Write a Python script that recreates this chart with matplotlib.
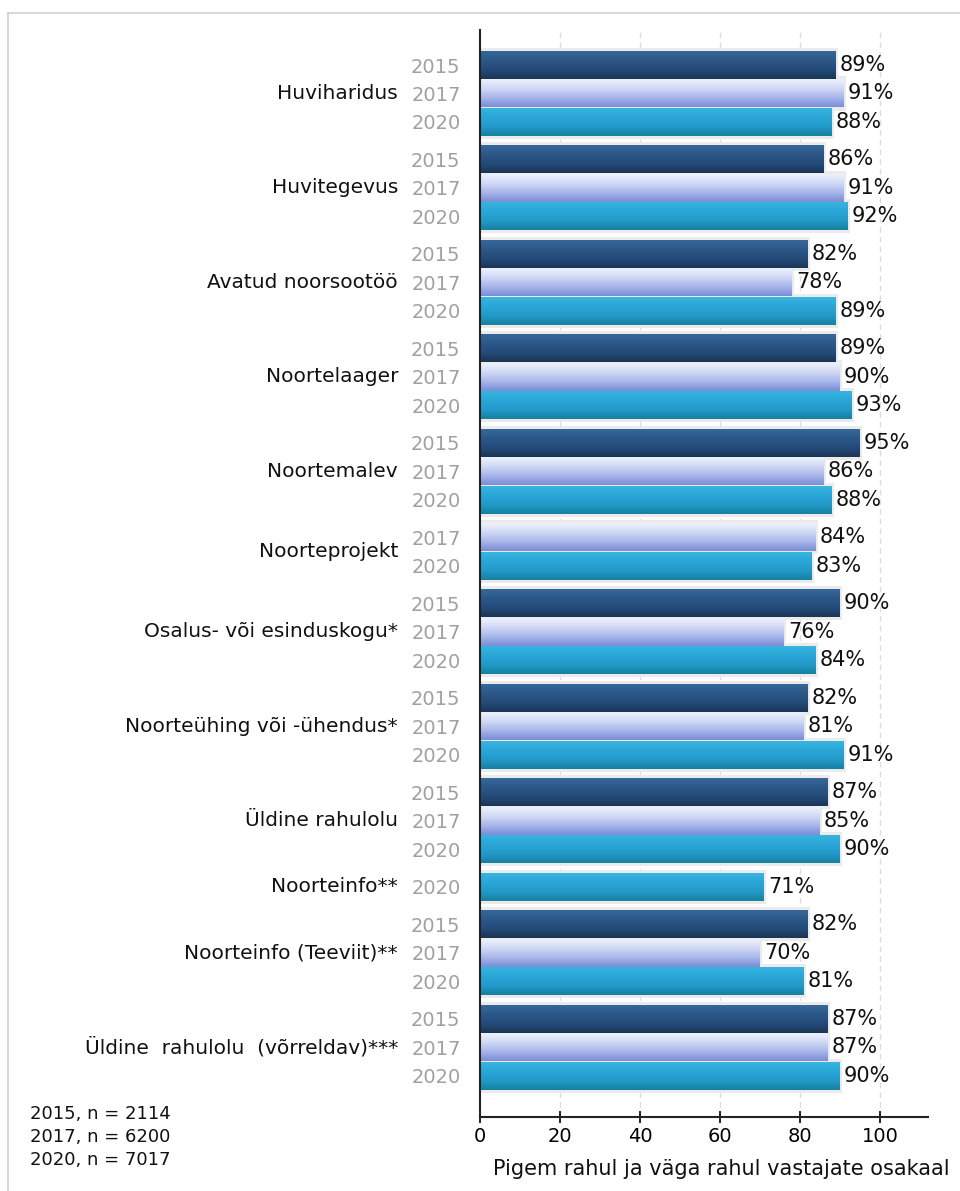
import numpy as np
import matplotlib.pyplot as plt
from matplotlib.colors import LinearSegmentedColormap
from matplotlib.patches import Rectangle

categories = [
    "Huviharidus",
    "Huvitegevus",
    "Avatud noorsootöö",
    "Noortelaager",
    "Noortemalev",
    "Noorteprojekt",
    "Osalus- või esinduskogu*",
    "Noorteühing või -ühendus*",
    "Üldine rahulolu",
    "Noorteinfo**",
    "Noorteinfo (Teeviit)**",
    "Üldine  rahulolu  (võrreldav)***",
]
years = ["2015", "2017", "2020"]
# None = no data for that year
values_2015 = [89, 86, 82, 89, 95, None, 90, 82, 87, None, 82, 87]
values_2017 = [91, 91, 78, 90, 86, 84, 76, 81, 85, None, 70, 87]
values_2020 = [88, 92, 89, 93, 88, 83, 84, 91, 90, 71, 81, 90]
sample_notes = ["2015, n = 2114", "2017, n = 6200", "2020, n = 7017"]
x_ticks = [0, 20, 40, 60, 80, 100]
x_label = "Pigem rahul ja väga rahul vastajate osakaal"

gradients = {
    "2015": ["#36689b", "#2b5787", "#244b7a", "#1a3456"],
    "2017": ["#eef2fd", "#d0d8f5", "#a7b5ea", "#7a8dd6"],
    "2020": ["#38b4e1", "#2aa6d6", "#229aca", "#17809f"],
}
cmaps = {y: LinearSegmentedColormap.from_list(y, c) for y, c in gradients.items()}

plt.rcParams["font.family"] = ["DejaVu Sans"]

fig = plt.figure(figsize=(9.6, 11.91), dpi=100)
ax = fig.add_axes([480 / 960, 1 - 1117 / 1191, 448 / 960, 1087 / 1191])

# work out bar rows: one unit per bar, a gap between groups
GAP = 0.32
rows = []  # (y, year, value)
cat_y = []
y = 0.0
for i, cat in enumerate(categories):
    group = []
    for yr, vals in zip(years, [values_2015, values_2017, values_2020]):
        v = vals[i]
        if v is None:
            continue
        group.append((y, yr, v))
        y += 1
    rows.extend(group)
    ys = [g[0] for g in group]
    if len(group) == 3:
        cat_y.append(ys[1])
    else:
        cat_y.append(np.mean(ys))
    y += GAP
last = rows[-1][0]

grad = np.linspace(0, 1, 64).reshape(-1, 1)
h = 0.97
for yc, yr, v in rows:
    # soft shadow behind the bar
    ax.add_patch(Rectangle((0, yc - 0.6), v + 0.6, 1.2, color="#ebebeb",
                           lw=0, zorder=1))
    ax.imshow(grad, cmap=cmaps[yr], extent=(0, v, yc + h / 2, yc - h / 2),
              aspect="auto", interpolation="bicubic", zorder=2)
    ax.text(v + 1.0, yc, f"{v}%", va="center", ha="left",
            fontsize=15, color="#111111", zorder=4)

ax.set_xlim(0, 112)
ax.set_ylim(last + 1.45, -1.23)

for xt in x_ticks[1:]:
    ax.axvline(xt, color="#dcdcdc", lw=1, ls=(0, (4, 3)), zorder=0)

ax.set_yticks([r[0] for r in rows], labels=[r[1] for r in rows])
ax.tick_params(axis="y", length=0, pad=14, labelsize=14, labelcolor="#a0a0a0")
ax.set_xticks(x_ticks)
ax.tick_params(axis="x", direction="inout", length=8, width=1.2,
               labelsize=14, pad=3)

for cat, yc in zip(categories, cat_y):
    ax.annotate(cat, xy=(0, yc), xycoords=ax.get_yaxis_transform(),
                xytext=(-82, 0), textcoords="offset pixels",
                ha="right", va="center", fontsize=14.5, color="#111111")

for side in ["top", "right"]:
    ax.spines[side].set_visible(False)
ax.spines["left"].set_color("#222222")
ax.spines["left"].set_linewidth(1.5)
ax.spines["bottom"].set_color("#222222")
ax.spines["bottom"].set_linewidth(1.5)

for k, note in enumerate(sample_notes):
    fig.text(30 / 960, 1 - (1114 + 23 * k) / 1191, note, fontsize=13,
             ha="left", va="center", color="#111111")
fig.text(721 / 960, 1 - 1169 / 1191, x_label, fontsize=15, ha="center",
         va="center", color="#111111")

# light frame around the chart
fig.add_artist(plt.Line2D([8 / 960, 8 / 960], [0, 1 - 13 / 1191],
                          color="#d0d0d0", lw=1.2, transform=fig.transFigure))
fig.add_artist(plt.Line2D([8 / 960, 1], [1 - 13 / 1191, 1 - 13 / 1191],
                          color="#d0d0d0", lw=1.2, transform=fig.transFigure))

fig.savefig("out.png", dpi=100)
